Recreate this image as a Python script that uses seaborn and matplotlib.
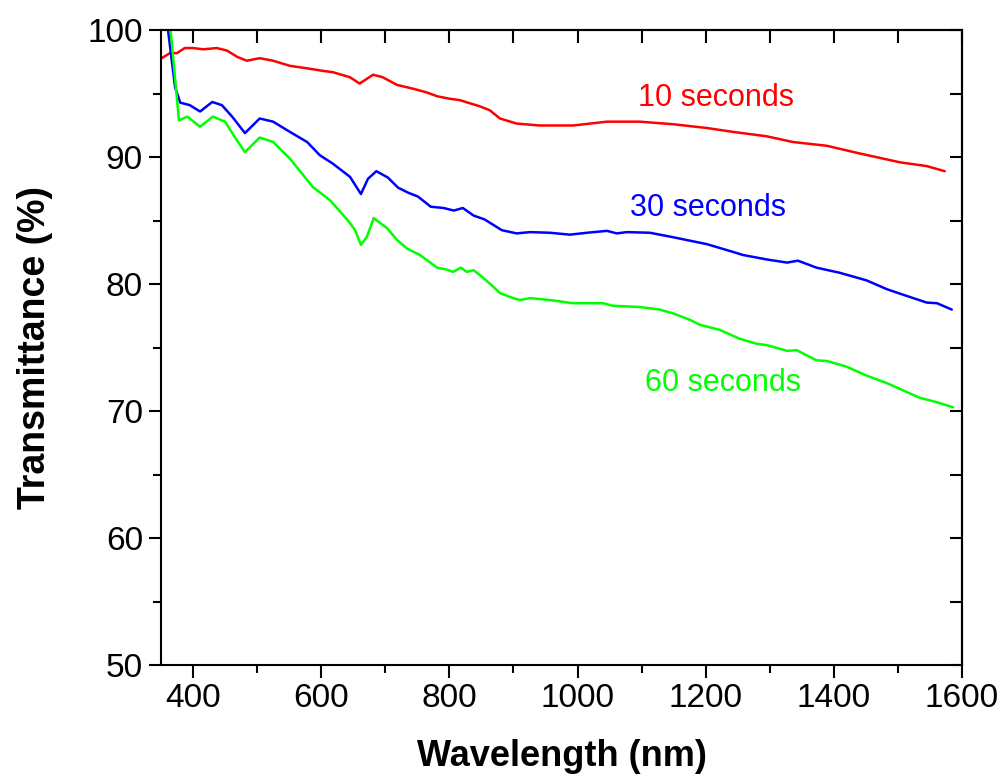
import numpy as np
import pandas as pd
import matplotlib
matplotlib.use("Agg")
import matplotlib.pyplot as plt
import seaborn as sns
from matplotlib.ticker import MultipleLocator

# ---- data ----
wl_10 = [351, 364, 375, 387, 400, 416, 437, 453, 469, 484, 504, 525, 551, 578, 603, 618,
         645, 660, 681, 696, 718, 743, 765, 781, 801, 816, 848, 863, 879, 905, 941, 993,
         1046, 1097, 1149, 1202, 1242, 1295, 1336, 1389, 1440, 1503, 1545, 1573]
t_10 = [97.8, 98.2, 98.2, 98.6, 98.6, 98.5, 98.6, 98.4, 97.9, 97.6, 97.8, 97.6, 97.2, 97.0, 96.8, 96.7,
        96.3, 95.8, 96.5, 96.3, 95.7, 95.4, 95.1, 94.8, 94.6, 94.5, 94.0, 93.7, 93.05, 92.65, 92.5, 92.5,
        92.8, 92.8, 92.6, 92.3, 92.0, 91.65, 91.2, 90.9, 90.3, 89.6, 89.3, 88.9]

wl_30 = [355, 361, 372, 380, 395, 411, 430, 445, 461, 481, 504, 525, 551, 578, 598, 618,
         645, 662, 673, 686, 704, 720, 736, 751, 771, 791, 807, 821, 838, 855, 882, 905,
         926, 957, 988, 1015, 1046, 1061, 1077, 1113, 1149, 1202, 1242, 1258, 1295, 1327,
         1344, 1373, 1409, 1451, 1483, 1518, 1545, 1561, 1584]
t_30 = [103.0, 100.0, 95.5, 94.3, 94.1, 93.6, 94.35, 94.1, 93.2, 91.9, 93.05, 92.8, 92.0, 91.2, 90.15, 89.5,
        88.45, 87.1, 88.3, 88.9, 88.4, 87.6, 87.2, 86.9, 86.1, 86.0, 85.8, 86.0, 85.4, 85.1, 84.25, 84.0,
        84.1, 84.05, 83.9, 84.05, 84.2, 84.0, 84.1, 84.05, 83.7, 83.15, 82.55, 82.3, 81.95, 81.7,
        81.85, 81.3, 80.9, 80.3, 79.6, 79.0, 78.55, 78.5, 78.0]

wl_60 = [357, 365, 378, 391, 411, 431, 450, 465, 481, 504, 525, 551, 587, 614, 642, 653,
         662, 671, 682, 703, 718, 734, 754, 781, 796, 806, 818, 827, 838, 848, 863, 879,
         894, 910, 926, 957, 993, 1040, 1055, 1097, 1128, 1149, 1175, 1191, 1222, 1253,
         1280, 1295, 1327, 1342, 1373, 1389, 1420, 1451, 1483, 1514, 1534, 1561, 1586]
t_60 = [104.0, 100.0, 92.9, 93.2, 92.4, 93.2, 92.8, 91.6, 90.4, 91.55, 91.2, 89.9, 87.65, 86.6, 85.0, 84.25,
        83.1, 83.7, 85.2, 84.4, 83.5, 82.8, 82.3, 81.3, 81.15, 80.97, 81.3, 80.97, 81.1, 80.7, 80.05, 79.3,
        79.0, 78.75, 78.9, 78.75, 78.5, 78.5, 78.3, 78.2, 78.0, 77.7, 77.2, 76.8, 76.4, 75.7,
        75.3, 75.2, 74.75, 74.8, 74.0, 73.95, 73.5, 72.8, 72.2, 71.5, 71.05, 70.7, 70.3]

series_names = ["10 seconds", "30 seconds", "60 seconds"]
series_colors = ["#ff0000", "#0000ff", "#00ff00"]
label_pos = [(1094, 94.7), (1082, 86.0), (1105, 72.2)]

df = pd.concat([
    pd.DataFrame({"Wavelength": wl_10, "T": t_10, "series": series_names[0]}),
    pd.DataFrame({"Wavelength": wl_30, "T": t_30, "series": series_names[1]}),
    pd.DataFrame({"Wavelength": wl_60, "T": t_60, "series": series_names[2]}),
], ignore_index=True)

sns.set_theme(style="ticks")
plt.rcParams["font.family"] = ["Liberation Sans", "DejaVu Sans"]
plt.rcParams["text.color"] = "black"
plt.rcParams["axes.labelcolor"] = "black"

fig = plt.figure(figsize=(10, 7.76), dpi=100)
ax = fig.add_axes([0.161, 0.143, 0.801, 0.818])

sns.lineplot(data=df, x="Wavelength", y="T", hue="series", sort=False, estimator=None,
             palette=dict(zip(series_names, series_colors)), linewidth=1.8,
             legend=False, ax=ax)

ax.set_xlim(350, 1600)
ax.set_ylim(50, 100)
ax.xaxis.set_major_locator(MultipleLocator(200))
ax.xaxis.set_minor_locator(MultipleLocator(100))
ax.yaxis.set_major_locator(MultipleLocator(10))
ax.yaxis.set_minor_locator(MultipleLocator(5))
ax.tick_params(axis="both", which="major", direction="out", length=9, width=1.5,
               labelsize=24, colors="black", pad=4)
ax.tick_params(axis="both", which="minor", direction="out", length=6, width=1.5, colors="black")
ax.set_xticks([400, 600, 800, 1000, 1200, 1400, 1600])

for s in ax.spines.values():
    s.set_visible(True)
    s.set_linewidth(1.5)
    s.set_color("black")

top = ax.secondary_xaxis("top")
top.xaxis.set_major_locator(MultipleLocator(100))
top.tick_params(direction="in", length=9, width=1.5, labeltop=False, colors="black")
right = ax.secondary_yaxis("right")
right.yaxis.set_major_locator(MultipleLocator(5))
right.tick_params(direction="in", length=9, width=1.5, labelright=False, colors="black")
for sec in (top, right):
    for s in sec.spines.values():
        s.set_linewidth(1.5)
        s.set_color("black")

ax.set_xlabel("Wavelength (nm)", fontsize=26, fontweight="bold", labelpad=18, color="black")
ax.set_ylabel("Transmittance (%)", fontsize=27, fontweight="bold", labelpad=25, color="black")

for name, color, (lx, ly) in zip(series_names, series_colors, label_pos):
    ax.text(lx, ly, name, color=color, fontsize=22, ha="left", va="center")

fig.savefig("out.png", dpi=100)
